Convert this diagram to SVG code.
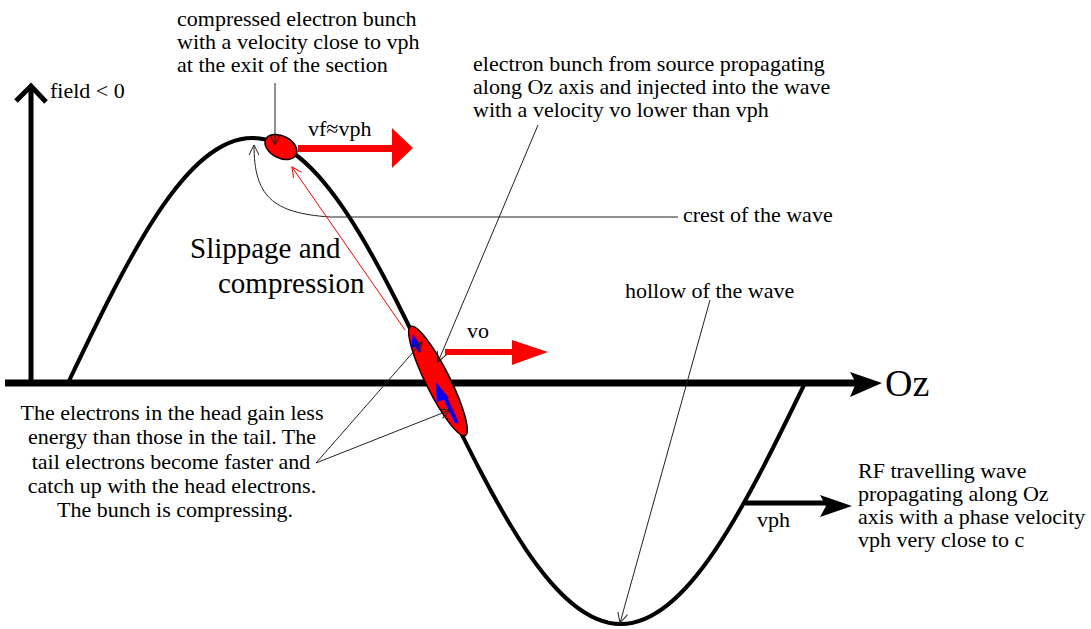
<svg xmlns="http://www.w3.org/2000/svg" width="1091" height="629" viewBox="0 0 1091 629">
<defs>
<style>
text{font-family:"Liberation Serif","Times New Roman",serif;fill:#000;}
.t{font-size:22px;}
.big{font-size:29px;}
.thin{fill:none;stroke:#222;stroke-width:1;}
</style>
<marker id="v" viewBox="0 0 12 12" refX="11" refY="6" markerWidth="12" markerHeight="12" markerUnits="userSpaceOnUse" orient="auto">
<path d="M1,1 L11,6 L1,11" fill="none" stroke="#222" stroke-width="1"/>
</marker>
<marker id="vr" viewBox="0 0 12 12" refX="11" refY="6" markerWidth="12" markerHeight="12" markerUnits="userSpaceOnUse" orient="auto">
<path d="M1,1 L11,6 L1,11" fill="none" stroke="#f00" stroke-width="1"/>
</marker>
</defs>
<rect width="1091" height="629" fill="#fff"/>

<g id="axes">
<line x1="31" y1="383" x2="31" y2="88" stroke="#000" stroke-width="5"/>
<path d="M16,101 L31,86 L46,102" fill="none" stroke="#000" stroke-width="5"/>
<line x1="5" y1="383" x2="856" y2="383" stroke="#000" stroke-width="7"/>
<path d="M850,372 L882,383 L850,397 L856,383 Z" fill="#000"/>
<text x="885" y="396" style="font-size:38px">Oz</text>
<text class="t" x="50" y="98">field &lt; 0</text>
</g>

<g id="wave">
<path d="M68,383 C128.1,257.5 185.6,138 252.25,138 C318.9,138 376.4,257.5 436.5,383 C496.6,506.5 554.1,624 620.75,624 C687.4,624 744.9,506.5 805,383" fill="none" stroke="#000" stroke-width="4"/>
</g>

<g id="crest-bunch">
<ellipse cx="281" cy="147" rx="17" ry="11" transform="rotate(27 281 147)" fill="#f00" stroke="#000" stroke-width="1.5"/>
<rect x="298" y="145" width="96" height="7" fill="#f00"/>
<path d="M392,128 L413,148 L392,168 Z" fill="#f00"/>
<text class="t" x="308" y="136">vf≈vph</text>
</g>

<g id="injected-bunch">
<ellipse cx="438" cy="381" rx="61" ry="12" transform="rotate(63.5 438 381)" fill="#f00" stroke="#000" stroke-width="1.5"/>
<line x1="420" y1="352" x2="416" y2="343" stroke="#00f" stroke-width="3"/>
<path d="M413,334 L421,346 L411,348 Z" fill="#00f"/>
<line x1="457" y1="423" x2="444" y2="395" stroke="#00f" stroke-width="4"/>
<path d="M436,382 L449,398 L437,402 Z" fill="#00f"/>
<rect x="445" y="349" width="69" height="6" fill="#f00"/>
<path d="M512,340 L548,352 L512,365 Z" fill="#f00"/>
<text class="t" x="467" y="338">vo</text>
</g>

<g id="rf-wave-arrow">
<line x1="745" y1="503" x2="828" y2="503" stroke="#000" stroke-width="5"/>
<path d="M820,495 L852,506 L820,517 L826,506 Z" fill="#000"/>
<text class="t" x="757" y="527">vph</text>
</g>

<g id="labels">
<text class="t" x="177" y="26">compressed electron bunch</text>
<text class="t" x="177" y="49">with a velocity close to vph</text>
<text class="t" x="177" y="72">at the exit of the section</text>
<text class="t" x="473" y="71">electron bunch from source propagating</text>
<text class="t" x="473" y="94">along Oz axis and injected into the wave</text>
<text class="t" x="473" y="117">with a velocity vo lower than vph</text>
<text class="t" x="683" y="222">crest of the wave</text>
<text class="t" x="625" y="298">hollow of the wave</text>
<text class="big" x="190" y="258">Slippage and</text>
<text class="big" x="218" y="293">compression</text>
<text class="t" text-anchor="middle" x="172" y="420">The electrons in the head gain less</text>
<text class="t" text-anchor="middle" x="172" y="444">energy than those in the tail. The</text>
<text class="t" text-anchor="middle" x="171" y="469">tail electrons become faster and</text>
<text class="t" text-anchor="middle" x="172" y="493">catch up with the head electrons.</text>
<text class="t" text-anchor="middle" x="175" y="517">The bunch is compressing.</text>
<text class="t" x="858" y="478">RF travelling wave</text>
<text class="t" x="858" y="501">propagating along Oz</text>
<text class="t" x="858" y="524">axis with a phase velocity</text>
<text class="t" x="858" y="547">vph very close to c</text>
</g>

<g id="connectors">
<line class="thin" x1="275" y1="83" x2="275" y2="145" marker-end="url(#v)"/>
<path class="thin" d="M678,217 L330,217 C272,213 254,196 254,145" marker-end="url(#v)"/>
<line x1="405" y1="330" x2="292" y2="167" fill="none" stroke="#f00" stroke-width="1" marker-end="url(#vr)"/>
<line class="thin" x1="538" y1="125" x2="438" y2="362" marker-end="url(#v)"/>
<line class="thin" x1="316" y1="463" x2="422" y2="342" marker-end="url(#v)"/>
<line class="thin" x1="316" y1="463" x2="450" y2="410" marker-end="url(#v)"/>
<line class="thin" x1="710" y1="300" x2="620" y2="623" marker-end="url(#v)"/>
</g>
</svg>
